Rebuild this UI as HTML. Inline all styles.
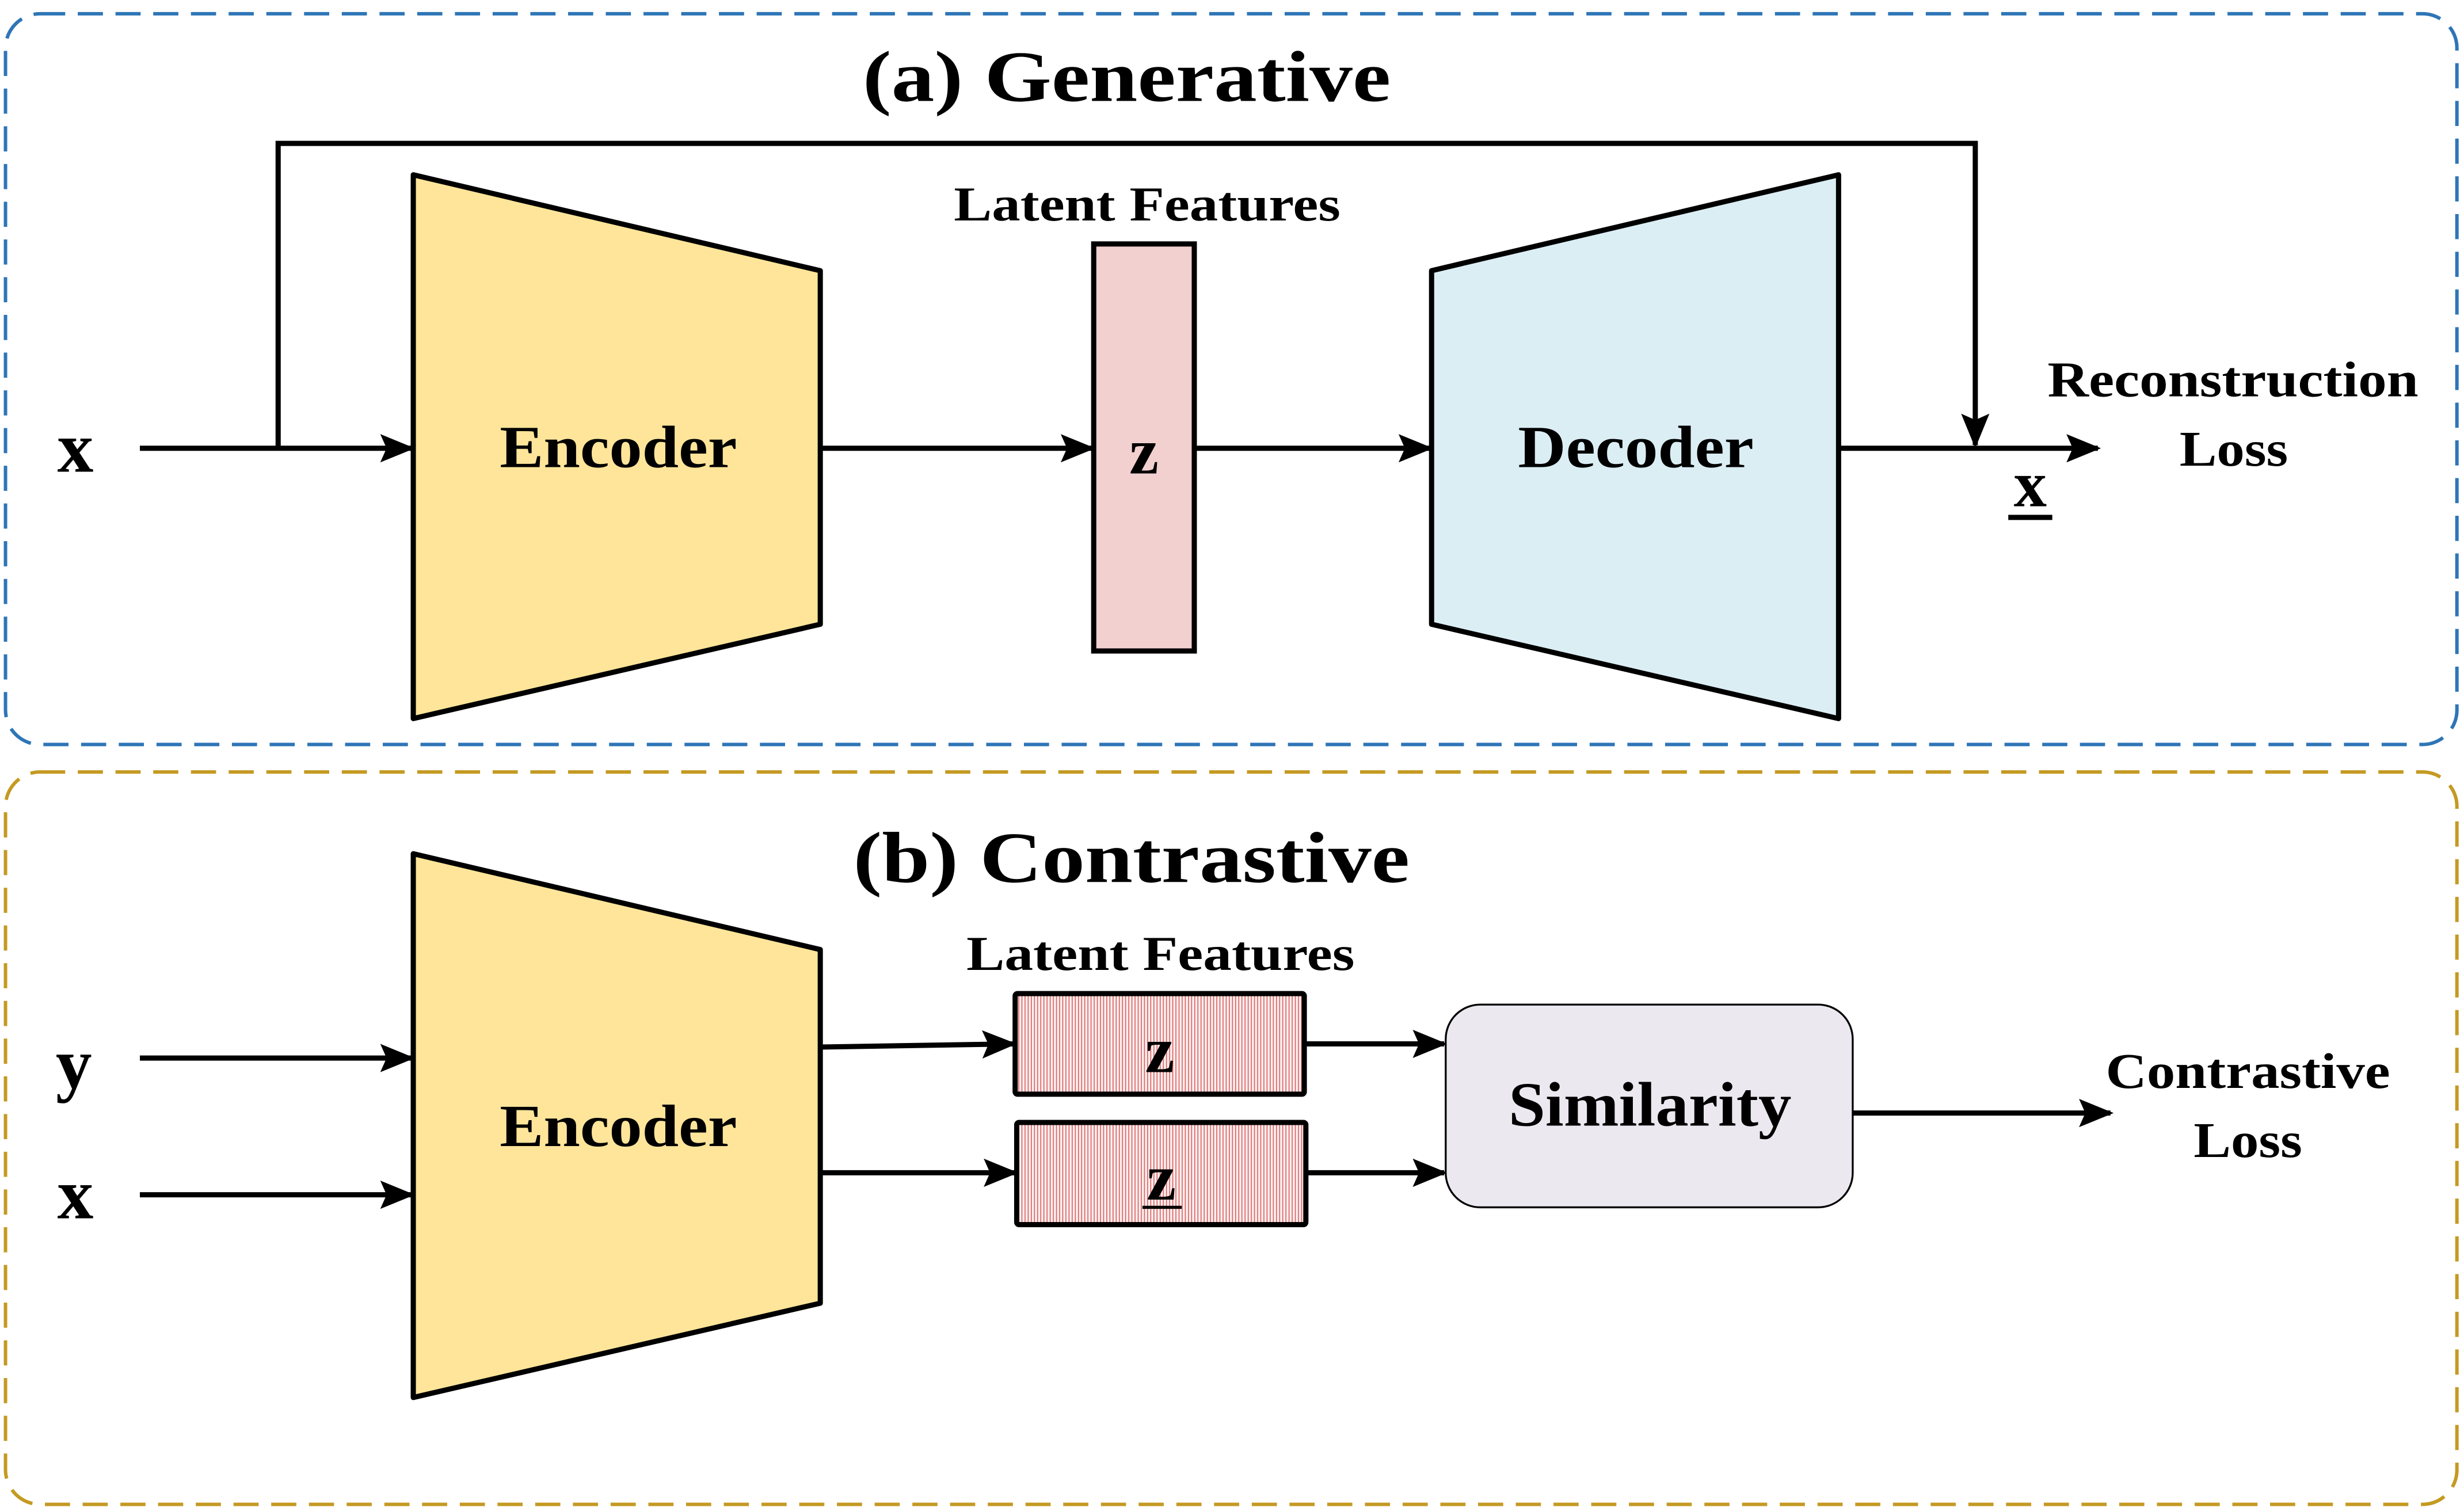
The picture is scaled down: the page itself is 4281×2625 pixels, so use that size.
<!DOCTYPE html>
<html><head><meta charset="utf-8"><style>
html,body{margin:0;padding:0;background:#fff;}
svg{display:block;}
text{font-family:"Liberation Serif",serif;font-weight:bold;fill:#000;}
</style></head><body>
<svg width="4281" height="2625" viewBox="0 0 1568 961" xmlns="http://www.w3.org/2000/svg">
<defs>
<marker id="ah" markerWidth="22" markerHeight="18" refX="20" refY="9" orient="auto" markerUnits="userSpaceOnUse" viewBox="0 0 22 18">
<path d="M0,0 L22,9 L0,18 L4,9 Z" fill="#000"/>
</marker>
<pattern id="hatch" width="2" height="4" patternUnits="userSpaceOnUse">
<rect width="2" height="4" fill="#fbeeee"/>
<rect width="0.6" height="4" fill="#d86060"/>
</pattern>
</defs>
<rect x="3.5" y="8.5" width="1560" height="465" rx="22" fill="none" stroke="#2e75b6" stroke-width="2.2" stroke-dasharray="16,8"/>
<rect x="3.5" y="491" width="1560" height="466" rx="22" fill="none" stroke="#c49a22" stroke-width="2.2" stroke-dasharray="16,8"/>

<g stroke="#000" stroke-width="3.3" fill="none">
<line x1="89" y1="285" x2="262" y2="285" marker-end="url(#ah)"/>
<polyline points="177,285 177,91 1257,91 1257,283" marker-end="url(#ah)"/>
<line x1="522" y1="285" x2="695" y2="285" marker-end="url(#ah)"/>
<line x1="760" y1="285" x2="910" y2="285" marker-end="url(#ah)"/>
<line x1="1170" y1="285" x2="1335" y2="285" marker-end="url(#ah)"/>
<line x1="89" y1="673" x2="262" y2="673" marker-end="url(#ah)"/>
<line x1="89" y1="760" x2="262" y2="760" marker-end="url(#ah)"/>
<line x1="522" y1="666" x2="645" y2="664" marker-end="url(#ah)"/>
<line x1="522" y1="746" x2="646" y2="746" marker-end="url(#ah)"/>
<line x1="830" y1="664" x2="919" y2="664" marker-end="url(#ah)"/>
<line x1="831" y1="746" x2="919" y2="746" marker-end="url(#ah)"/>
<line x1="1179" y1="708" x2="1343" y2="708" marker-end="url(#ah)"/>
</g>

<text x="549" y="64" font-size="46" textLength="336" lengthAdjust="spacingAndGlyphs">(a) Generative</text>
<polygon points="263,111 522,172 522,397 263,457" fill="#fee59a" stroke="#000" stroke-width="3.3" stroke-linejoin="round"/>
<text x="318" y="297" font-size="38" textLength="151" lengthAdjust="spacingAndGlyphs">Encoder</text>
<text x="607" y="140" font-size="31" textLength="246" lengthAdjust="spacingAndGlyphs">Latent Features</text>
<rect x="696" y="155" width="64" height="259" fill="#f2d0cf" stroke="#000" stroke-width="3.3"/>
<text x="728" y="301" font-size="42" text-anchor="middle" font-weight="normal">z</text>
<polygon points="911,172 1170,111 1170,457 911,397" fill="#dbeef4" stroke="#000" stroke-width="3.3" stroke-linejoin="round"/>
<text x="966" y="297" font-size="38" textLength="150" lengthAdjust="spacingAndGlyphs">Decoder</text>
<text x="48" y="300" font-size="46" text-anchor="middle">x</text>
<text x="1292" y="322" font-size="42" text-anchor="middle">x</text>
<line x1="1278" y1="329" x2="1306" y2="329" stroke="#000" stroke-width="3.3"/>
<text x="1303" y="252" font-size="32" textLength="236" lengthAdjust="spacingAndGlyphs">Reconstruction</text>
<text x="1387" y="296" font-size="32" textLength="69" lengthAdjust="spacingAndGlyphs">Loss</text>

<text x="543" y="561" font-size="46" textLength="354" lengthAdjust="spacingAndGlyphs">(b) Contrastive</text>
<polygon points="263,543 522,604 522,829 263,889" fill="#fee59a" stroke="#000" stroke-width="3.3" stroke-linejoin="round"/>
<text x="318" y="729" font-size="38" textLength="151" lengthAdjust="spacingAndGlyphs">Encoder</text>
<text x="615" y="617" font-size="31" textLength="247" lengthAdjust="spacingAndGlyphs">Latent Features</text>
<rect x="646" y="632" width="184" height="64" fill="url(#hatch)" stroke="#000" stroke-width="3.3" rx="1.5"/>
<text x="738" y="682" font-size="42" text-anchor="middle" font-weight="normal">z</text>
<rect x="647" y="714" width="184" height="65" fill="url(#hatch)" stroke="#000" stroke-width="3.3" rx="1.5"/>
<text x="739" y="763" font-size="42" text-anchor="middle" font-weight="normal">z</text>
<line x1="727" y1="768" x2="752" y2="768" stroke="#000" stroke-width="2"/>
<rect x="920" y="639" width="259" height="129" rx="22" fill="#ebe8f0" stroke="#000" stroke-width="1.2"/>
<text x="960" y="716" font-size="40" textLength="180" lengthAdjust="spacingAndGlyphs">Similarity</text>
<text x="47" y="692" font-size="46" text-anchor="middle">y</text>
<text x="48" y="775" font-size="46" text-anchor="middle">x</text>
<text x="1340" y="692" font-size="32" textLength="181" lengthAdjust="spacingAndGlyphs">Contrastive</text>
<text x="1396" y="736" font-size="32" textLength="69" lengthAdjust="spacingAndGlyphs">Loss</text>
</svg>
</body></html>
